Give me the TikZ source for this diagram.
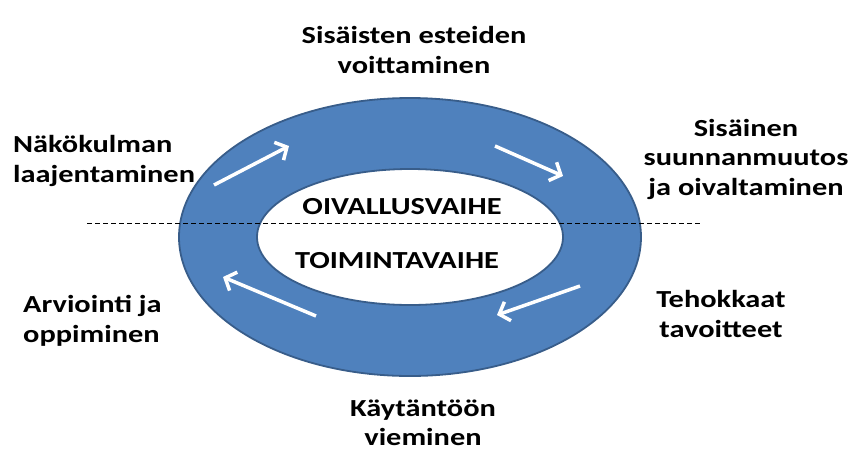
\documentclass[tikz,border=0pt]{standalone}
\usepackage{fontspec}
\setmainfont{Carlito}[FakeStretch=1.24]
\usetikzlibrary{arrows.meta,shapes.geometric}
\definecolor{ringfill}{RGB}{79,129,189}
\definecolor{ringline}{RGB}{56,93,138}
\tikzset{
  lbl/.style={font=\fontsize{24.5}{29.5}\selectfont\bfseries, inner sep=0pt, text=black},
  flowarrow/.style={draw=white, line width=3.5pt, -{Straight Barb[length=9pt,width=20pt,line width=3.5pt]}},
  ring/.style={ellipse, fill=ringfill, draw=ringline, line width=1.8pt, inner sep=0pt},
  divider/.style={draw=black, line width=0.8pt, dash pattern=on 5pt off 3pt},
}
\begin{document}
\begin{tikzpicture}[x=1pt,y=-1pt]
\useasboundingbox (0,0) rectangle (850,450);
\node[ring, minimum width=462pt, minimum height=278pt] (outer) at (410,237) {};
\node[ring, fill=white, minimum width=306pt, minimum height=136pt] (inner) at (410,237) {};
\coordinate (dl) at (87,223);
\coordinate (dr) at (700,223);
\draw[divider] (dl) -- (dr);
\node[lbl, anchor=base] (oiv) at (402,214) {OIVALLUSVAIHE};
\node[lbl, anchor=base] (toim) at (397,268) {TOIMINTAVAIHE};
\node[lbl, align=center] (top) at (414,50) {Sisäisten esteiden\\voittaminen};
\node[lbl, align=left, anchor=west] (left) at (13,161) {Näkökulman\\laajentaminen};
\node[lbl, align=center] (right) at (746,159) {Sisäinen\\suunnanmuutos\\ja oivaltaminen};
\node[lbl, align=left, anchor=west] (arv) at (23,321) {Arviointi ja\\oppiminen};
\node[lbl, align=center] (teh) at (721,314) {Tehokkaat\\tavoitteet};
\node[lbl, align=center] (kay) at (423,423) {Käytäntöön\\vieminen};
\coordinate (a1s) at (214,185); \coordinate (a1e) at (289,146);
\coordinate (a2s) at (495,146); \coordinate (a2e) at (563,176);
\coordinate (a3s) at (580,286); \coordinate (a3e) at (497,315);
\coordinate (a4s) at (316,316); \coordinate (a4e) at (223,277);
\draw[flowarrow] (a1s) -- (a1e);
\draw[flowarrow] (a2s) -- (a2e);
\draw[flowarrow] (a3s) -- (a3e);
\draw[flowarrow] (a4s) -- (a4e);
\end{tikzpicture}
\end{document}
